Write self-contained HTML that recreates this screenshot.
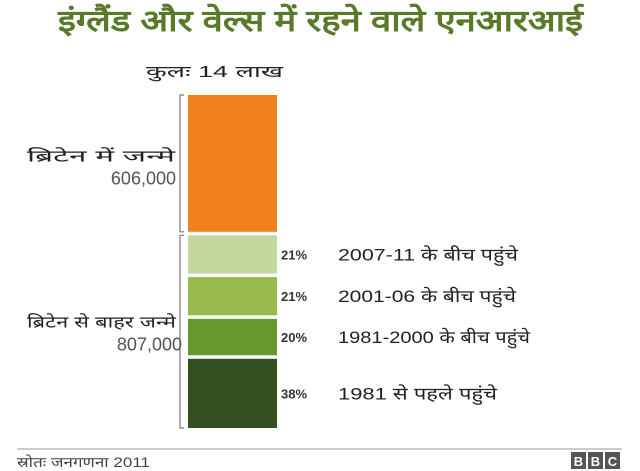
<!DOCTYPE html>
<html><head><meta charset="utf-8">
<style>
body{margin:0;width:640px;height:471px;background:#fff;overflow:hidden;font-family:"Liberation Sans","DejaVu Sans",sans-serif;}
svg{display:block}
</style></head>
<body>
<svg id="chart" width="640" height="471">
<text x="58" y="31" textLength="525" lengthAdjust="spacingAndGlyphs" font-size="30" font-weight="bold" fill="#587a2a">इंग्लैंड और वेल्स में रहने वाले एनआरआई</text>
<text x="146" y="77" textLength="137" lengthAdjust="spacingAndGlyphs" font-size="16" fill="#222">कुलः 14 लाख</text>
<line x1="17" y1="449" x2="622" y2="449" stroke="#bbb" stroke-width="1.5"/>
<text x="17" y="467" textLength="133" lengthAdjust="spacingAndGlyphs" font-size="14" fill="#444">स्रोतः जनगणना 2011</text>
<g>
<rect x="571" y="452" width="15" height="17" fill="#555"/><rect x="588" y="452" width="15" height="17" fill="#555"/><rect x="605" y="452" width="15" height="17" fill="#555"/>
<text x="578.5" y="466" text-anchor="middle" font-size="13" font-weight="bold" fill="#fff">B</text>
<text x="595.5" y="466" text-anchor="middle" font-size="13" font-weight="bold" fill="#fff">B</text>
<text x="612.5" y="466" text-anchor="middle" font-size="13" font-weight="bold" fill="#fff">C</text>
</g>
</svg>
<script>
const groups=["ब्रिटेन में जन्मे","ब्रिटेन से बाहर जन्मे"];
const groupValues=[606000,807000];
const groupValueLabels=["606,000","807,000"];
const segmentPercents=[21,21,20,38];
const segmentLabels=["2007-11 के बीच पहुंचे","2001-06 के बीच पहुंचे","1981-2000 के बीच पहुंचे","1981 से पहले पहुंचे"];
const segColors=["#c5d79e","#98ba4c","#66982e","#354f20"];
const labelWidths=[180,178,192,159];
const NS="http://www.w3.org/2000/svg";
const svg=document.getElementById('chart');
function mk(t,a,txt){const e=document.createElementNS(NS,t);for(const k in a)e.setAttribute(k,a[k]);if(txt!==undefined)e.textContent=txt;svg.appendChild(e);return e;}
const top0=95,bottom0=428,gap=3.5,barX=188,barW=89;
const total=groupValues[0]+groupValues[1];
const k=(bottom0-top0-gap*segmentPercents.length)/total;
function yScale(v){return v*k;}
let y=top0;
const h0=yScale(groupValues[0]);
let r=mk('rect',{x:barX,y:y,width:barW,height:h0,fill:'#f07f1e'});


function bracket(y1,y2,name){const p=mk('path',{d:`M184 ${y1} H180 V${y2} H184`,fill:'none',stroke:'#777','stroke-width':1.2});

}
bracket(y,y+h0,'bracket-uk-born');
let t=mk('text',{x:27,y:y+h0/2-2,textLength:148,lengthAdjust:'spacingAndGlyphs','font-size':16,fill:'#222'},groups[0]);


t=mk('text',{x:176,y:y+h0/2+21,'text-anchor':'end','font-size':18,fill:'#555'},groupValueLabels[0]);


y+=h0+gap;
const sTop=y;
segmentPercents.forEach((p,i)=>{
 const h=yScale(groupValues[1]*p/100);
 const rr=mk('rect',{x:barX,y:y,width:barW,height:h,fill:segColors[i]});
 
 
 const pt=mk('text',{x:281,y:y+h/2+5,'font-size':13,'font-weight':'bold',fill:'#333'},p+'%');
 
 
 const lt=mk('text',{x:338,y:y+h/2+6,textLength:labelWidths[i],lengthAdjust:'spacingAndGlyphs','font-size':17,fill:'#222'},segmentLabels[i]);
 
 
 y+=h+(i<segmentPercents.length-1?gap:0);
});
bracket(sTop,y,'bracket-foreign-born');
const mid=(sTop+y)/2;
t=mk('text',{x:27,y:mid-4,textLength:149,lengthAdjust:'spacingAndGlyphs','font-size':16,fill:'#222'},groups[1]);


t=mk('text',{x:182,y:mid+19,'text-anchor':'end','font-size':18,fill:'#555'},groupValueLabels[1]);


</script>
</body></html>
